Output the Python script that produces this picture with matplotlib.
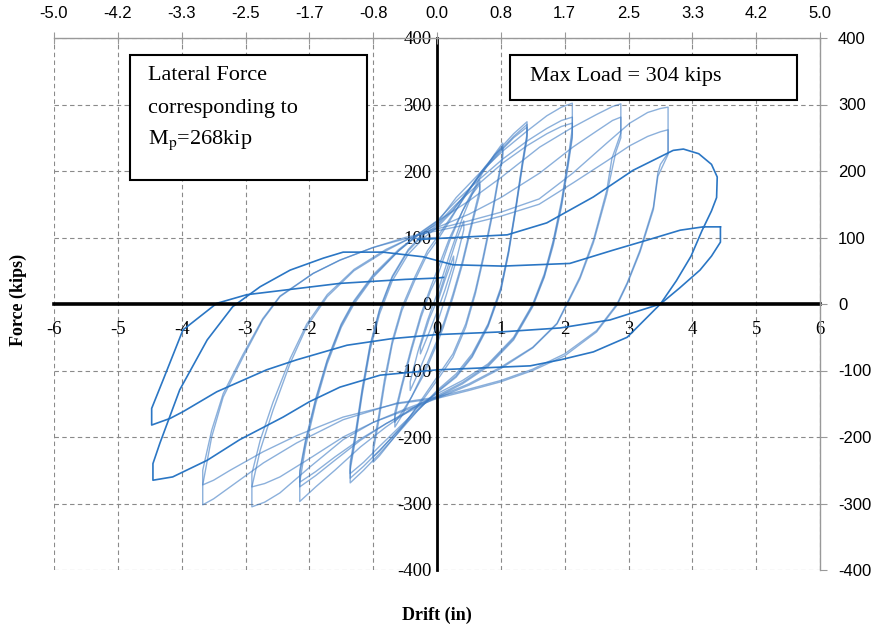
import matplotlib
matplotlib.use("Agg")
import matplotlib.pyplot as plt
from matplotlib.patches import Rectangle

plt.rcParams['font.family'] = ['Liberation Serif', 'DejaVu Serif']
plt.rcParams['mathtext.fontset'] = 'stix'
plt.rcParams['axes.unicode_minus'] = False

# drift ticks (in) and matching drift ratio (%) labels on top
drift_ticks = [-6, -5, -4, -3, -2, -1, 0, 1, 2, 3, 4, 5, 6]
top_labels = ['-5.0', '-4.2', '-3.3', '-2.5', '-1.7', '-0.8', '0.0',
              '0.8', '1.7', '2.5', '3.3', '4.2', '5.0']
force_ticks = [-400, -300, -200, -100, 0, 100, 200, 300, 400]

# hysteresis cycles, (drift in, force kips)
c025 = [(0, 0), (0.12, 35), (0.26, 72), (0.26, 62), (0.12, 20), (0, -12), (-0.12, -42),
        (-0.26, -75), (-0.26, -64), (-0.12, -22), (0, 5)]
c040 = [(0, 5), (0.15, 50), (0.3, 95), (0.42, 125), (0.42, 112), (0.3, 65), (0.15, 15),
        (0, -30), (-0.15, -70), (-0.3, -105), (-0.42, -130), (-0.42, -117), (-0.3, -72),
        (-0.15, -25), (0, 15)]
c067a = [(0, 15), (0.2, 75), (0.4, 130), (0.55, 165), (0.67, 186), (0.67, 172), (0.55, 125),
         (0.4, 65), (0.25, 15), (0.1, -30), (0, -55), (-0.2, -100), (-0.4, -140),
         (-0.55, -168), (-0.66, -185), (-0.66, -170), (-0.55, -125), (-0.4, -70),
         (-0.25, -20), (-0.1, 20), (0, 40)]
c067b = [(0, 40), (0.2, 95), (0.4, 140), (0.55, 165), (0.67, 180), (0.67, 165), (0.55, 120),
         (0.4, 60), (0.25, 10), (0.1, -35), (0, -60), (-0.2, -105), (-0.4, -140),
         (-0.55, -163), (-0.66, -178), (-0.66, -163), (-0.55, -120), (-0.4, -65),
         (-0.25, -15), (-0.1, 25), (0, 50)]
c100a = [(0, 50), (0.2, 100), (0.45, 150), (0.7, 195), (0.9, 225), (1.03, 242), (1.03, 226),
         (0.95, 185), (0.85, 130), (0.72, 70), (0.6, 20), (0.45, -30), (0.25, -75),
         (0, -110), (-0.25, -145), (-0.5, -180), (-0.75, -210), (-0.9, -228), (-1.0, -238),
         (-1.0, -222), (-0.92, -180), (-0.82, -120), (-0.7, -60), (-0.55, -10),
         (-0.35, 35), (-0.15, 75), (0, 95)]
c100b = [(0, 95), (0.2, 125), (0.45, 165), (0.7, 200), (0.9, 224), (1.03, 236), (1.03, 220),
         (0.95, 180), (0.85, 125), (0.72, 65), (0.6, 15), (0.45, -35), (0.25, -80),
         (0, -115), (-0.25, -148), (-0.5, -178), (-0.75, -205), (-0.9, -221), (-1.0, -230),
         (-1.0, -214), (-0.92, -172), (-0.82, -112), (-0.7, -55), (-0.55, -5),
         (-0.35, 40), (-0.15, 80), (0, 100)]
c141a = [(0, 100), (0.25, 135), (0.5, 170), (0.75, 205), (1.0, 235), (1.2, 256), (1.41, 274),
         (1.41, 256), (1.34, 215), (1.24, 150), (1.12, 80), (1.0, 25), (0.8, -30),
         (0.55, -75), (0.3, -105), (0, -130), (-0.3, -160), (-0.6, -193), (-0.9, -225),
         (-1.15, -250), (-1.36, -269), (-1.36, -250), (-1.28, -205), (-1.17, -135),
         (-1.05, -70), (-0.9, -15), (-0.7, 35), (-0.45, 75), (-0.2, 100), (0, 115)]
c141b = [(0, 115), (0.25, 140), (0.5, 172), (0.75, 205), (1.0, 232), (1.2, 252), (1.41, 270),
         (1.41, 252), (1.34, 212), (1.24, 148), (1.12, 78), (1.0, 22), (0.8, -32),
         (0.55, -78), (0.3, -108), (0, -132), (-0.3, -160), (-0.6, -190), (-0.9, -220),
         (-1.15, -244), (-1.36, -262), (-1.36, -244), (-1.28, -200), (-1.17, -130),
         (-1.05, -65), (-0.9, -10), (-0.7, 40), (-0.45, 80), (-0.2, 105), (0, 118)]
c141c = [(0, 118), (0.25, 142), (0.5, 172), (0.75, 203), (1.0, 230), (1.2, 250), (1.41, 266),
         (1.41, 248), (1.34, 208), (1.24, 145), (1.12, 75), (1.0, 20), (0.8, -34),
         (0.55, -80), (0.3, -110), (0, -133), (-0.3, -158), (-0.6, -186), (-0.9, -214),
         (-1.15, -238), (-1.36, -255), (-1.36, -238), (-1.28, -195), (-1.17, -126),
         (-1.05, -62), (-0.9, -8), (-0.7, 42), (-0.45, 82), (-0.2, 108), (0, 122)]
c212a = [(0, 122), (0.3, 160), (0.67, 197), (1.03, 230), (1.41, 260), (1.72, 283), (1.95, 296),
         (2.12, 302), (2.12, 265), (2.05, 215), (1.95, 155), (1.82, 95), (1.68, 45),
         (1.5, 0), (1.2, -50), (0.8, -90), (0.4, -115), (0, -135), (-0.4, -158),
         (-0.8, -185), (-1.2, -215), (-1.6, -250), (-1.9, -275), (-2.15, -297),
         (-2.15, -268), (-2.06, -215), (-1.9, -150), (-1.72, -90), (-1.5, -35), (-1.3, 0),
         (-1.0, 40), (-0.6, 80), (-0.3, 105), (0, 125)]
c212b = [(0, 125), (0.3, 155), (0.67, 188), (1.03, 218), (1.41, 245), (1.72, 264), (1.95, 276),
         (2.12, 281), (2.12, 255), (2.05, 210), (1.95, 150), (1.82, 92), (1.68, 42),
         (1.5, -2), (1.2, -52), (0.8, -92), (0.4, -118), (0, -138), (-0.4, -158),
         (-0.8, -180), (-1.2, -205), (-1.6, -235), (-1.9, -258), (-2.15, -275),
         (-2.15, -255), (-2.06, -208), (-1.9, -145), (-1.72, -86), (-1.5, -32), (-1.3, 3),
         (-1.0, 42), (-0.6, 80), (-0.3, 103), (0, 120)]
c212c = [(0, 120), (0.3, 150), (0.67, 182), (1.03, 212), (1.41, 238), (1.72, 256), (1.95, 267),
         (2.12, 272), (2.12, 250), (2.05, 205), (1.95, 146), (1.82, 88), (1.68, 40),
         (1.5, -4), (1.2, -54), (0.8, -94), (0.4, -120), (0, -140), (-0.4, -160),
         (-0.8, -180), (-1.2, -203), (-1.6, -230), (-1.9, -252), (-2.15, -268),
         (-2.15, -250), (-2.06, -205), (-1.9, -142), (-1.72, -84), (-1.5, -30), (-1.3, 5),
         (-1.0, 44), (-0.6, 82), (-0.3, 104), (0, 124)]
c288a = [(0, 124), (0.5, 155), (1.0, 190), (1.61, 236), (2.13, 266), (2.5, 285), (2.75, 297),
         (2.88, 301), (2.88, 257), (2.8, 235), (2.74, 219), (2.66, 171), (2.45, 96),
         (2.24, 41), (2.04, 2), (1.88, -29), (1.5, -65), (1.0, -95), (0.5, -120), (0, -140),
         (-0.5, -158), (-1.0, -178), (-1.47, -204), (-1.99, -245), (-2.46, -284),
         (-2.7, -298), (-2.9, -305), (-2.9, -275), (-2.77, -220), (-2.57, -160),
         (-2.3, -89), (-2.04, -34), (-1.72, 11), (-1.3, 50), (-0.8, 80), (-0.4, 100), (0, 115)]
c288b = [(0, 115), (0.5, 135), (1.0, 160), (1.61, 197), (2.13, 236), (2.5, 260), (2.75, 276),
         (2.88, 281), (2.88, 250), (2.8, 228), (2.66, 165), (2.45, 92), (2.24, 38),
         (2.04, 0), (1.88, -30), (1.5, -66), (1.0, -97), (0.5, -122), (0, -142),
         (-0.5, -160), (-1.0, -178), (-1.47, -200), (-1.99, -232), (-2.46, -260),
         (-2.7, -270), (-2.9, -275), (-2.9, -255), (-2.77, -205), (-2.57, -148),
         (-2.3, -82), (-2.04, -30), (-1.72, 14), (-1.3, 52), (-0.8, 82), (-0.4, 100), (0, 113)]
c362a = [(0, 113), (0.5, 125), (1.0, 138), (1.6, 158), (2.13, 197), (2.66, 242), (3.02, 272),
         (3.3, 288), (3.5, 294), (3.62, 296), (3.62, 227), (3.5, 210), (3.46, 197),
         (3.39, 146), (3.18, 81), (2.98, 32), (2.82, 0), (2.5, -40), (2.0, -75), (1.5, -98),
         (1.0, -115), (0.5, -128), (0, -140), (-0.63, -149), (-1.47, -174), (-2.2, -209),
         (-2.72, -239), (-3.24, -275), (-3.5, -293), (-3.67, -302), (-3.67, -272),
         (-3.53, -200), (-3.35, -140), (-3.04, -80), (-2.73, -24), (-2.46, 11),
         (-1.94, 46), (-1.52, 66), (-1.0, 85), (-0.5, 100), (0, 110)]
c362b = [(0, 110), (0.5, 120), (1.0, 132), (1.6, 150), (2.13, 182), (2.66, 215), (3.02, 238),
         (3.3, 252), (3.5, 259), (3.62, 262), (3.62, 225), (3.46, 192), (3.39, 142),
         (3.18, 78), (2.98, 30), (2.82, -2), (2.5, -42), (2.0, -78), (1.5, -100),
         (1.0, -117), (0.5, -130), (0, -142), (-0.63, -150), (-1.47, -170), (-2.2, -198),
         (-2.72, -222), (-3.24, -250), (-3.5, -265), (-3.67, -272), (-3.67, -250),
         (-3.53, -190), (-3.35, -135), (-3.04, -76), (-2.73, -22), (-2.46, 12),
         (-1.94, 46), (-1.52, 66), (-1.0, 85), (-0.5, 98), (0, 100)]

# last two large cycles (darker line)
s440a = [(-0.3, 97), (0.5, 101), (1.1, 104), (1.72, 122), (2.45, 161), (3.07, 201), (3.7, 231),
         (3.86, 233), (4.1, 226), (4.3, 210), (4.39, 191), (4.38, 160), (4.3, 140),
         (4.15, 110), (3.98, 72), (3.75, 35), (3.5, 0), (2.98, -50), (2.45, -72),
         (1.93, -84), (1.46, -93), (0.5, -97), (0, -99), (-0.89, -107), (-1.52, -125),
         (-2.0, -147), (-2.41, -170), (-3.09, -204), (-3.6, -235), (-4.14, -260),
         (-4.45, -265), (-4.45, -240), (-4.34, -209), (-4.03, -129), (-3.6, -54),
         (-3.2, -4), (-2.77, 26), (-2.3, 51), (-1.78, 69), (-1.47, 78), (-0.85, 78),
         (-0.22, 71), (0.25, 59), (1.03, 57), (2.08, 61), (2.76, 81), (3.29, 96),
         (3.81, 111), (4.17, 116), (4.44, 116)]
s440b = [(4.44, 116), (4.44, 93), (4.3, 72), (4.12, 51), (3.8, 24), (3.5, 0), (2.71, -24),
         (1.93, -36), (1.0, -42), (0, -46), (-0.7, -52), (-1.41, -62), (-2.2, -84),
         (-2.67, -99), (-3.45, -132), (-3.98, -162), (-4.18, -172), (-4.47, -182),
         (-4.47, -157), (-4.29, -114), (-3.98, -39), (-3.45, 1), (-2.98, 14), (-1.52, 31),
         (-0.5, 37), (0, 39), (0.1, 40)]

light_cycles = [c025, c040, c067a, c067b, c100a, c100b, c141a, c141b, c141c,
                c212a, c212b, c212c, c288a, c288b, c362a, c362b]
dark_cycles = [s440a, s440b]

W, H = 881, 633
fig = plt.figure(figsize=(W / 100, H / 100), dpi=100)
ax = fig.add_axes([54 / W, 63 / H, 766 / W, 532 / H])

for cyc in light_cycles:
    xs, ys = zip(*cyc)
    ax.plot(xs, ys, color='#3f7cc4', lw=1.0, alpha=0.6, zorder=3)
for cyc in dark_cycles:
    xs, ys = zip(*cyc)
    ax.plot(xs, ys, color='#1f6fc1', lw=1.2, alpha=0.95, zorder=4)

ax.set_xlim(-6, 6)
ax.set_ylim(-400, 400)
ax.set_xticks(drift_ticks)
ax.set_yticks(force_ticks)
ax.grid(True, ls=(0, (4, 3)), color='#8a8a8a', lw=0.8)

# axes through the origin
ax.spines['bottom'].set_position(('data', 0))
ax.spines['left'].set_position(('data', 0))
ax.spines['bottom'].set_linewidth(2.6)
ax.spines['left'].set_linewidth(2.0)
ax.spines['bottom'].set_zorder(5)
ax.spines['left'].set_zorder(5)
ax.spines['top'].set_visible(False)
ax.spines['right'].set_visible(False)
ax.tick_params(axis='x', length=0, pad=12, labelsize=13.5)
ax.tick_params(axis='y', length=0, pad=4, labelsize=13.5)
ax.set_xticklabels([str(t) for t in drift_ticks])
ax.set_yticklabels([str(t) for t in force_ticks])

sans = ['Liberation Sans Narrow', 'Liberation Sans', 'DejaVu Sans']

# top axis: drift ratio
ax_top = ax.twiny()
ax_top.set_xlim(-6, 6)
ax_top.set_xticks(drift_ticks)
ax_top.set_xticklabels(top_labels, family=sans)
ax_top.tick_params(axis='x', direction='inout', length=8, color='#999999', labelsize=12, pad=8)
for s in ['left', 'right', 'bottom']:
    ax_top.spines[s].set_visible(False)
ax_top.spines['top'].set_color('#999999')
ax_top.spines['top'].set_linewidth(1.0)

# right axis: force
ax_r = ax.twinx()
ax_r.set_ylim(-400, 400)
ax_r.set_yticks(force_ticks)
ax_r.set_yticklabels([str(t) for t in force_ticks], family=sans)
ax_r.tick_params(axis='y', direction='out', length=5, color='#999999', labelsize=12, pad=8)
for s in ['left', 'top', 'bottom']:
    ax_r.spines[s].set_visible(False)
ax_r.spines['right'].set_color('#999999')
ax_r.spines['right'].set_linewidth(1.0)

fig.text(18 / W, 1 - 300 / H, 'Force (kips)', rotation=90, ha='center', va='center',
         fontsize=13, fontweight='bold')
fig.text(437 / W, 1 - 615 / H, 'Drift (in)', ha='center', va='center',
         fontsize=13, fontweight='bold')

# annotation boxes
fig.patches.append(Rectangle((130 / W, 1 - 180 / H), 237 / W, 125 / H, transform=fig.transFigure,
                             facecolor='white', edgecolor='black', lw=1.5, zorder=6))
fig.patches.append(Rectangle((510 / W, 1 - 100 / H), 287 / W, 45 / H, transform=fig.transFigure,
                             facecolor='white', edgecolor='black', lw=1.5, zorder=6))
fig.text(148 / W, 1 - 76 / H, 'Lateral Force', va='center', fontsize=16, zorder=7)
fig.text(148 / W, 1 - 108 / H, 'corresponding to', va='center', fontsize=16, zorder=7)
fig.text(148 / W, 1 - 140 / H, r'M$_{\rm p}$=268kip', va='center', fontsize=16, zorder=7)
fig.text(530 / W, 1 - 77 / H, 'Max Load = 304 kips', va='center', fontsize=16, zorder=7)

fig.savefig('out.png', dpi=100)
